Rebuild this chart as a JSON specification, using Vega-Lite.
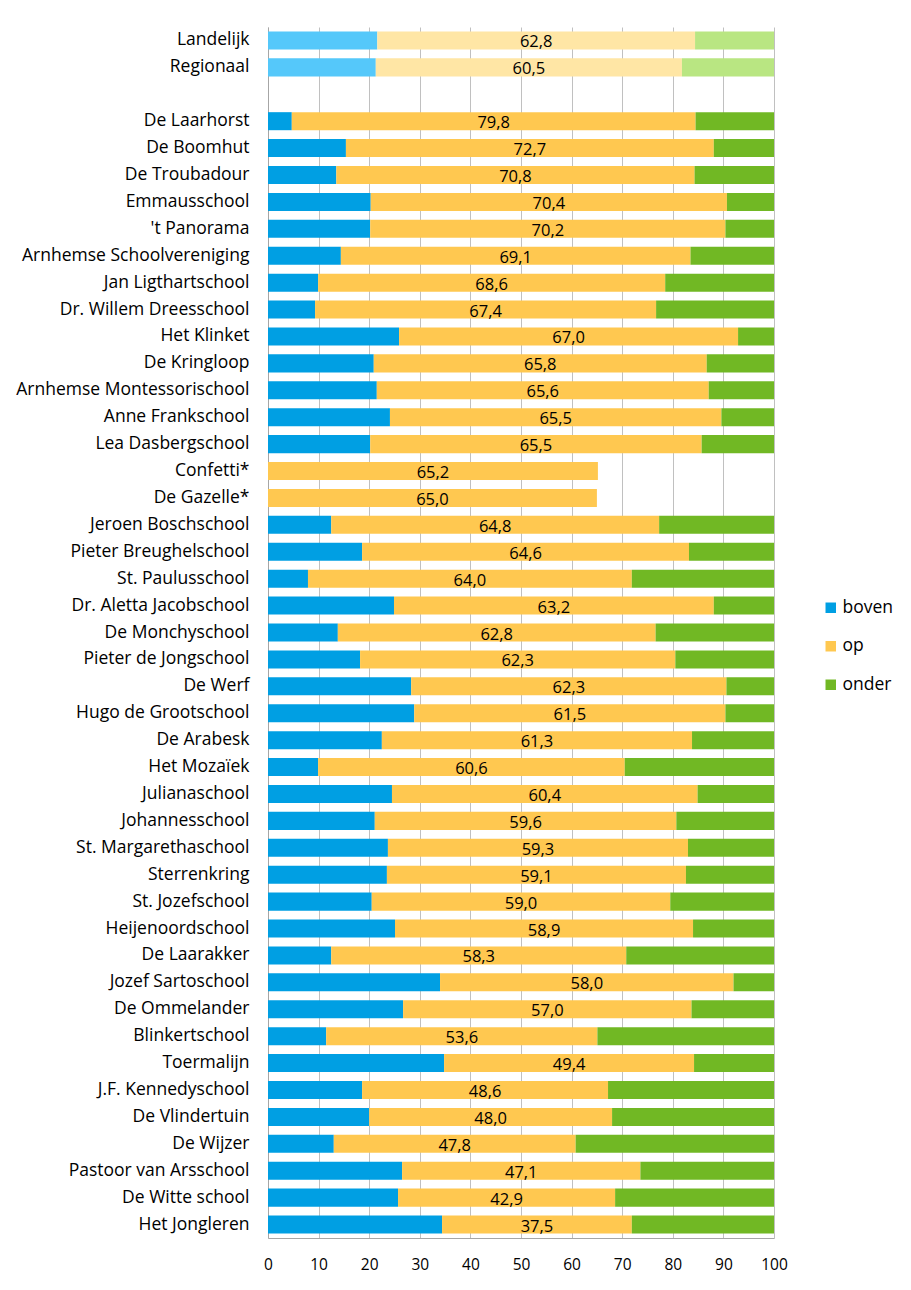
{
  "$schema": "https://vega.github.io/schema/vega-lite/v6.json",
  "autosize": "none",
  "width": 506,
  "height": 1211,
  "padding": {"left": 268, "top": 27, "right": 137, "bottom": 52},
  "background": "white",
  "config": {
    "font": "Open Sans",
    "view": {"stroke": null},
    "locale": {"number": {"decimal": ",", "thousands": ".", "grouping": [3], "currency": ["€", ""]}}
  },
  "data": {"values": [
    {"s":"Landelijk","c":"boven","v":21.6},{"s":"Landelijk","c":"op","v":62.8},{"s":"Landelijk","c":"onder","v":15.6},
    {"s":"Regionaal","c":"boven","v":21.3},{"s":"Regionaal","c":"op","v":60.5},{"s":"Regionaal","c":"onder","v":18.2},
    {"s":"De Laarhorst","c":"boven","v":4.7},{"s":"De Laarhorst","c":"op","v":79.8},{"s":"De Laarhorst","c":"onder","v":15.5},
    {"s":"De Boomhut","c":"boven","v":15.4},{"s":"De Boomhut","c":"op","v":72.7},{"s":"De Boomhut","c":"onder","v":11.9},
    {"s":"De Troubadour","c":"boven","v":13.5},{"s":"De Troubadour","c":"op","v":70.8},{"s":"De Troubadour","c":"onder","v":15.7},
    {"s":"Emmausschool","c":"boven","v":20.3},{"s":"Emmausschool","c":"op","v":70.4},{"s":"Emmausschool","c":"onder","v":9.3},
    {"s":"'t Panorama","c":"boven","v":20.2},{"s":"'t Panorama","c":"op","v":70.2},{"s":"'t Panorama","c":"onder","v":9.6},
    {"s":"Arnhemse Schoolvereniging","c":"boven","v":14.4},{"s":"Arnhemse Schoolvereniging","c":"op","v":69.1},{"s":"Arnhemse Schoolvereniging","c":"onder","v":16.5},
    {"s":"Jan Ligthartschool","c":"boven","v":9.9},{"s":"Jan Ligthartschool","c":"op","v":68.6},{"s":"Jan Ligthartschool","c":"onder","v":21.5},
    {"s":"Dr. Willem Dreesschool","c":"boven","v":9.3},{"s":"Dr. Willem Dreesschool","c":"op","v":67.4},{"s":"Dr. Willem Dreesschool","c":"onder","v":23.3},
    {"s":"Het Klinket","c":"boven","v":25.9},{"s":"Het Klinket","c":"op","v":67.0},{"s":"Het Klinket","c":"onder","v":7.1},
    {"s":"De Kringloop","c":"boven","v":20.9},{"s":"De Kringloop","c":"op","v":65.8},{"s":"De Kringloop","c":"onder","v":13.3},
    {"s":"Arnhemse Montessorischool","c":"boven","v":21.5},{"s":"Arnhemse Montessorischool","c":"op","v":65.6},{"s":"Arnhemse Montessorischool","c":"onder","v":12.9},
    {"s":"Anne Frankschool","c":"boven","v":24.1},{"s":"Anne Frankschool","c":"op","v":65.5},{"s":"Anne Frankschool","c":"onder","v":10.4},
    {"s":"Lea Dasbergschool","c":"boven","v":20.2},{"s":"Lea Dasbergschool","c":"op","v":65.5},{"s":"Lea Dasbergschool","c":"onder","v":14.3},
    {"s":"Confetti*","c":"op","v":65.2},
    {"s":"De Gazelle*","c":"op","v":65.0},
    {"s":"Jeroen Boschschool","c":"boven","v":12.5},{"s":"Jeroen Boschschool","c":"op","v":64.8},{"s":"Jeroen Boschschool","c":"onder","v":22.7},
    {"s":"Pieter Breughelschool","c":"boven","v":18.6},{"s":"Pieter Breughelschool","c":"op","v":64.6},{"s":"Pieter Breughelschool","c":"onder","v":16.8},
    {"s":"St. Paulusschool","c":"boven","v":7.9},{"s":"St. Paulusschool","c":"op","v":64.0},{"s":"St. Paulusschool","c":"onder","v":28.1},
    {"s":"Dr. Aletta Jacobschool","c":"boven","v":24.9},{"s":"Dr. Aletta Jacobschool","c":"op","v":63.2},{"s":"Dr. Aletta Jacobschool","c":"onder","v":11.9},
    {"s":"De Monchyschool","c":"boven","v":13.8},{"s":"De Monchyschool","c":"op","v":62.8},{"s":"De Monchyschool","c":"onder","v":23.4},
    {"s":"Pieter de Jongschool","c":"boven","v":18.2},{"s":"Pieter de Jongschool","c":"op","v":62.3},{"s":"Pieter de Jongschool","c":"onder","v":19.5},
    {"s":"De Werf","c":"boven","v":28.3},{"s":"De Werf","c":"op","v":62.3},{"s":"De Werf","c":"onder","v":9.4},
    {"s":"Hugo de Grootschool","c":"boven","v":28.9},{"s":"Hugo de Grootschool","c":"op","v":61.5},{"s":"Hugo de Grootschool","c":"onder","v":9.6},
    {"s":"De Arabesk","c":"boven","v":22.5},{"s":"De Arabesk","c":"op","v":61.3},{"s":"De Arabesk","c":"onder","v":16.2},
    {"s":"Het Mozaïek","c":"boven","v":9.9},{"s":"Het Mozaïek","c":"op","v":60.6},{"s":"Het Mozaïek","c":"onder","v":29.5},
    {"s":"Julianaschool","c":"boven","v":24.5},{"s":"Julianaschool","c":"op","v":60.4},{"s":"Julianaschool","c":"onder","v":15.1},
    {"s":"Johannesschool","c":"boven","v":21.1},{"s":"Johannesschool","c":"op","v":59.6},{"s":"Johannesschool","c":"onder","v":19.3},
    {"s":"St. Margarethaschool","c":"boven","v":23.7},{"s":"St. Margarethaschool","c":"op","v":59.3},{"s":"St. Margarethaschool","c":"onder","v":17.0},
    {"s":"Sterrenkring","c":"boven","v":23.5},{"s":"Sterrenkring","c":"op","v":59.1},{"s":"Sterrenkring","c":"onder","v":17.4},
    {"s":"St. Jozefschool","c":"boven","v":20.5},{"s":"St. Jozefschool","c":"op","v":59.0},{"s":"St. Jozefschool","c":"onder","v":20.5},
    {"s":"Heijenoordschool","c":"boven","v":25.1},{"s":"Heijenoordschool","c":"op","v":58.9},{"s":"Heijenoordschool","c":"onder","v":16.0},
    {"s":"De Laarakker","c":"boven","v":12.5},{"s":"De Laarakker","c":"op","v":58.3},{"s":"De Laarakker","c":"onder","v":29.2},
    {"s":"Jozef Sartoschool","c":"boven","v":34.0},{"s":"Jozef Sartoschool","c":"op","v":58.0},{"s":"Jozef Sartoschool","c":"onder","v":8.0},
    {"s":"De Ommelander","c":"boven","v":26.7},{"s":"De Ommelander","c":"op","v":57.0},{"s":"De Ommelander","c":"onder","v":16.3},
    {"s":"Blinkertschool","c":"boven","v":11.5},{"s":"Blinkertschool","c":"op","v":53.6},{"s":"Blinkertschool","c":"onder","v":34.9},
    {"s":"Toermalijn","c":"boven","v":34.8},{"s":"Toermalijn","c":"op","v":49.4},{"s":"Toermalijn","c":"onder","v":15.8},
    {"s":"J.F. Kennedyschool","c":"boven","v":18.6},{"s":"J.F. Kennedyschool","c":"op","v":48.6},{"s":"J.F. Kennedyschool","c":"onder","v":32.8},
    {"s":"De Vlindertuin","c":"boven","v":20.0},{"s":"De Vlindertuin","c":"op","v":48.0},{"s":"De Vlindertuin","c":"onder","v":32.0},
    {"s":"De Wijzer","c":"boven","v":13.0},{"s":"De Wijzer","c":"op","v":47.8},{"s":"De Wijzer","c":"onder","v":39.2},
    {"s":"Pastoor van Arsschool","c":"boven","v":26.5},{"s":"Pastoor van Arsschool","c":"op","v":47.1},{"s":"Pastoor van Arsschool","c":"onder","v":26.4},
    {"s":"De Witte school","c":"boven","v":25.7},{"s":"De Witte school","c":"op","v":42.9},{"s":"De Witte school","c":"onder","v":31.4},
    {"s":"Het Jongleren","c":"boven","v":34.4},{"s":"Het Jongleren","c":"op","v":37.5},{"s":"Het Jongleren","c":"onder","v":28.1}
  ]},
  "transform": [
    {"calculate": "indexof(['boven','op','onder'], datum.c)", "as": "ord"},
    {"calculate": "datum.s === 'Landelijk' || datum.s === 'Regionaal'", "as": "ref"}
  ],
  "encoding": {
    "y": {
      "field": "s", "type": "nominal", "title": null,
      "scale": {
        "domain": ["Landelijk","Regionaal"," ","De Laarhorst","De Boomhut","De Troubadour","Emmausschool","'t Panorama","Arnhemse Schoolvereniging","Jan Ligthartschool","Dr. Willem Dreesschool","Het Klinket","De Kringloop","Arnhemse Montessorischool","Anne Frankschool","Lea Dasbergschool","Confetti*","De Gazelle*","Jeroen Boschschool","Pieter Breughelschool","St. Paulusschool","Dr. Aletta Jacobschool","De Monchyschool","Pieter de Jongschool","De Werf","Hugo de Grootschool","De Arabesk","Het Mozaïek","Julianaschool","Johannesschool","St. Margarethaschool","Sterrenkring","St. Jozefschool","Heijenoordschool","De Laarakker","Jozef Sartoschool","De Ommelander","Blinkertschool","Toermalijn","J.F. Kennedyschool","De Vlindertuin","De Wijzer","Pastoor van Arsschool","De Witte school","Het Jongleren"],
        "paddingInner": 0.33, "paddingOuter": 0.165
      },
      "axis": {"ticks": false, "domain": true, "domainColor": "#A6A6A6", "labelFontSize": 17.5, "labelColor": "#000000", "labelPadding": 19, "labelLimit": 300}
    },
    "x": {
      "field": "v", "type": "quantitative", "stack": "zero", "title": null,
      "scale": {"domain": [0, 100], "nice": false},
      "axis": {"values": [0,10,20,30,40,50,60,70,80,90,100], "grid": true, "gridColor": "#C0C0C0", "ticks": false, "domainColor": "#A6A6A6", "labelFontSize": 15.5, "labelColor": "#000000", "labelPadding": 19, "labelFlush": false}
    },
    "order": {"field": "ord", "type": "quantitative"}
  },
  "layer": [
    {
      "transform": [{"filter": "!datum.ref"}],
      "mark": {"type": "bar"},
      "encoding": {
        "color": {"field": "c", "type": "nominal",
          "scale": {"domain": ["boven","op","onder"], "range": ["#009FE3","#FFC850","#71B824"]},
          "legend": {"title": null, "orient": "none", "legendX": 554, "legendY": 572, "symbolType": "square", "symbolSize": 110, "symbolStrokeWidth": 0, "labelFontSize": 17.5, "labelColor": "#000000", "labelOffset": 3, "rowPadding": 19.5, "padding": 0}
        }
      }
    },
    {
      "transform": [{"filter": "datum.ref"}],
      "mark": {"type": "bar"},
      "encoding": {
        "color": {"field": "c", "type": "nominal",
          "scale": {"domain": ["boven","op","onder"], "range": ["#55C8FA","#FFE6A5","#B9E682"]},
          "legend": null
        }
      }
    },
    {
      "mark": {"type": "text", "fontSize": 16.5, "color": "#000000", "baseline": "middle", "dy": 2},
      "encoding": {
        "x": {"field": "v", "type": "quantitative", "stack": "zero", "bandPosition": 0.5},
        "detail": {"field": "c"},
        "text": {"condition": {"test": "datum.c === 'op'", "field": "v", "type": "quantitative", "format": ".1f"}, "value": ""}
      }
    }
  ],
  "resolve": {"scale": {"color": "independent"}}
}
